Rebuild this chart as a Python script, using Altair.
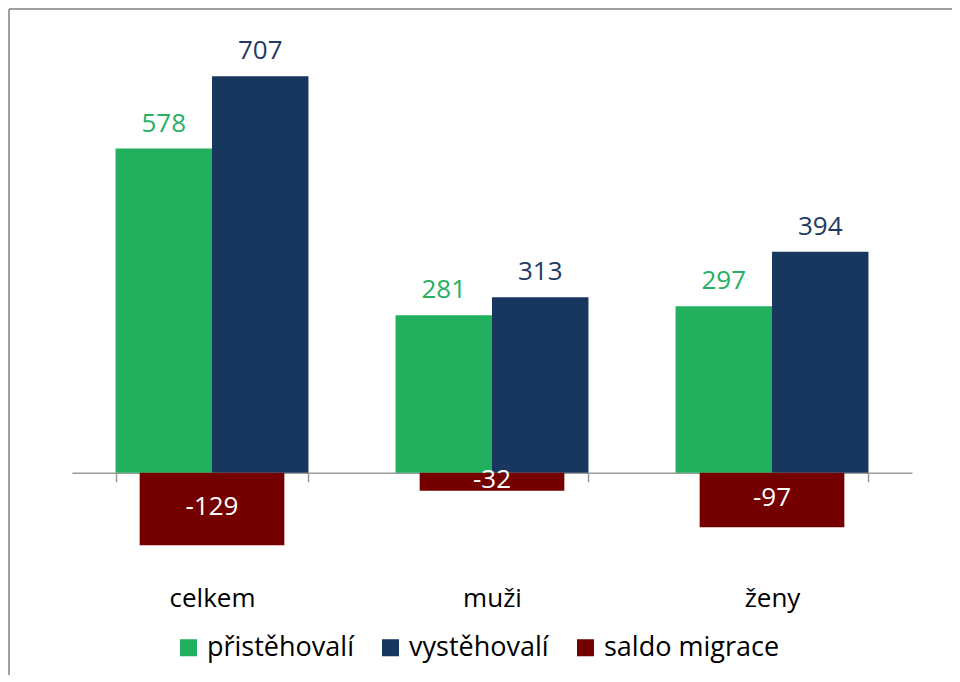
import altair as alt
import pandas as pd

categories = ["celkem", "muži", "ženy"]
series = ["přistěhovalí", "vystěhovalí", "saldo migrace"]
prist = [578, 281, 297]
vyst = [707, 313, 394]
saldo = [-129, -32, -97]

colors = ["#22B05F", "#17375E", "#750000"]
label_colors = ["#27B062", "#1F3A64"]

rows = []
for i, c in enumerate(categories):
    rows.append({"cat": c, "series": series[0], "value": prist[i], "txt": str(prist[i])})
    rows.append({"cat": c, "series": series[1], "value": vyst[i], "txt": str(vyst[i])})
df_pv = pd.DataFrame(rows)
df_s = pd.DataFrame({"cat": categories, "series": series[2], "value": saldo,
                     "txt": [str(v) for v in saldo]})
df_s["mid"] = df_s["value"] / 2

FONT = "Open Sans"
W, H = 840, 561

x_enc = alt.X(
    "cat:N",
    sort=categories,
    title=None,
    scale=alt.Scale(paddingInner=0.311, paddingOuter=0.1555),
    axis=alt.Axis(
        orient="bottom",
        offset=-112.2,
        labelAngle=0,
        labelFontSize=26,
        labelFont=FONT,
        labelColor="#000000",
        labelPadding=104,
        tickBand="extent",
        tickSize=9,
        tickColor="#9a9a9a",
        tickWidth=1.5,
        domainColor="#9a9a9a",
        domainWidth=1.5,
        grid=False,
        zindex=0,
    ),
)
y_scale = alt.Scale(domain=[-200, 800], nice=False, zero=False)
color_scale = alt.Scale(domain=series, range=colors)
xoff = alt.XOffset("series:N", sort=series[:2], scale=alt.Scale(domain=series[:2], paddingInner=0, paddingOuter=0))

bars = alt.Chart(df_pv).mark_bar().encode(
    x=x_enc,
    xOffset=xoff,
    y=alt.Y("value:Q", scale=y_scale, axis=None),
    color=alt.Color(
        "series:N",
        scale=color_scale,
        title=None,
        legend=alt.Legend(
            orient="none",
            legendX=103,
            legendY=610,
            direction="horizontal",
            symbolType="square",
            symbolSize=290,
            symbolStrokeWidth=0,
            labelFont=FONT,
            labelFontSize=27,
            labelColor="#000000",
            labelOffset=5,
            columnPadding=23,
            labelLimit=300,
        ),
    ),
)

def value_labels(name, col):
    return alt.Chart(df_pv).transform_filter(
        alt.datum.series == name
    ).mark_text(
        font=FONT, fontSize=26, baseline="alphabetic", dy=-17, color=col
    ).encode(
        x=alt.X("cat:N", sort=categories),
        xOffset=xoff,
        y=alt.Y("value:Q", scale=y_scale),
        text=alt.Text("txt:N"),
    )

labels_p = value_labels(series[0], label_colors[0])
labels_v = value_labels(series[1], label_colors[1])

saldo_bars = alt.Chart(df_s).mark_bar(width=alt.RelativeBandSize(0.75)).encode(
    x=alt.X("cat:N", sort=categories),
    y=alt.Y("value:Q", scale=y_scale),
    color=alt.Color("series:N", scale=color_scale),
)

saldo_labels = alt.Chart(df_s).mark_text(
    font=FONT, fontSize=26, baseline="middle", color="white", dy=-2
).encode(
    x=alt.X("cat:N", sort=categories),
    y=alt.Y("mid:Q", scale=y_scale),
    text=alt.Text("txt:N"),
)

border_df = pd.DataFrame({"k": [0]})
left_border = alt.Chart(border_df).mark_rule(color="#a0a0a0", strokeWidth=2).encode(
    x=alt.value(-63), y=alt.value(-15), y2=alt.value(H + 100)
)
top_border = alt.Chart(border_df).mark_rule(color="#a0a0a0", strokeWidth=2).encode(
    x=alt.value(-63), x2=alt.value(W + 60), y=alt.value(-15)
)

chart = (
    alt.layer(bars, labels_p, labels_v, saldo_bars, saldo_labels, left_border, top_border)
    .properties(
        width=W,
        height=H,
        autosize=alt.AutoSizeParams(type="none"),
        padding={"left": 64, "top": 16, "right": 40, "bottom": 90},
    )
    .configure(background="white")
    .configure_view(strokeWidth=0, stroke="transparent")
)

chart.save("out.html", embed_options={"renderer": "svg", "actions": False})
